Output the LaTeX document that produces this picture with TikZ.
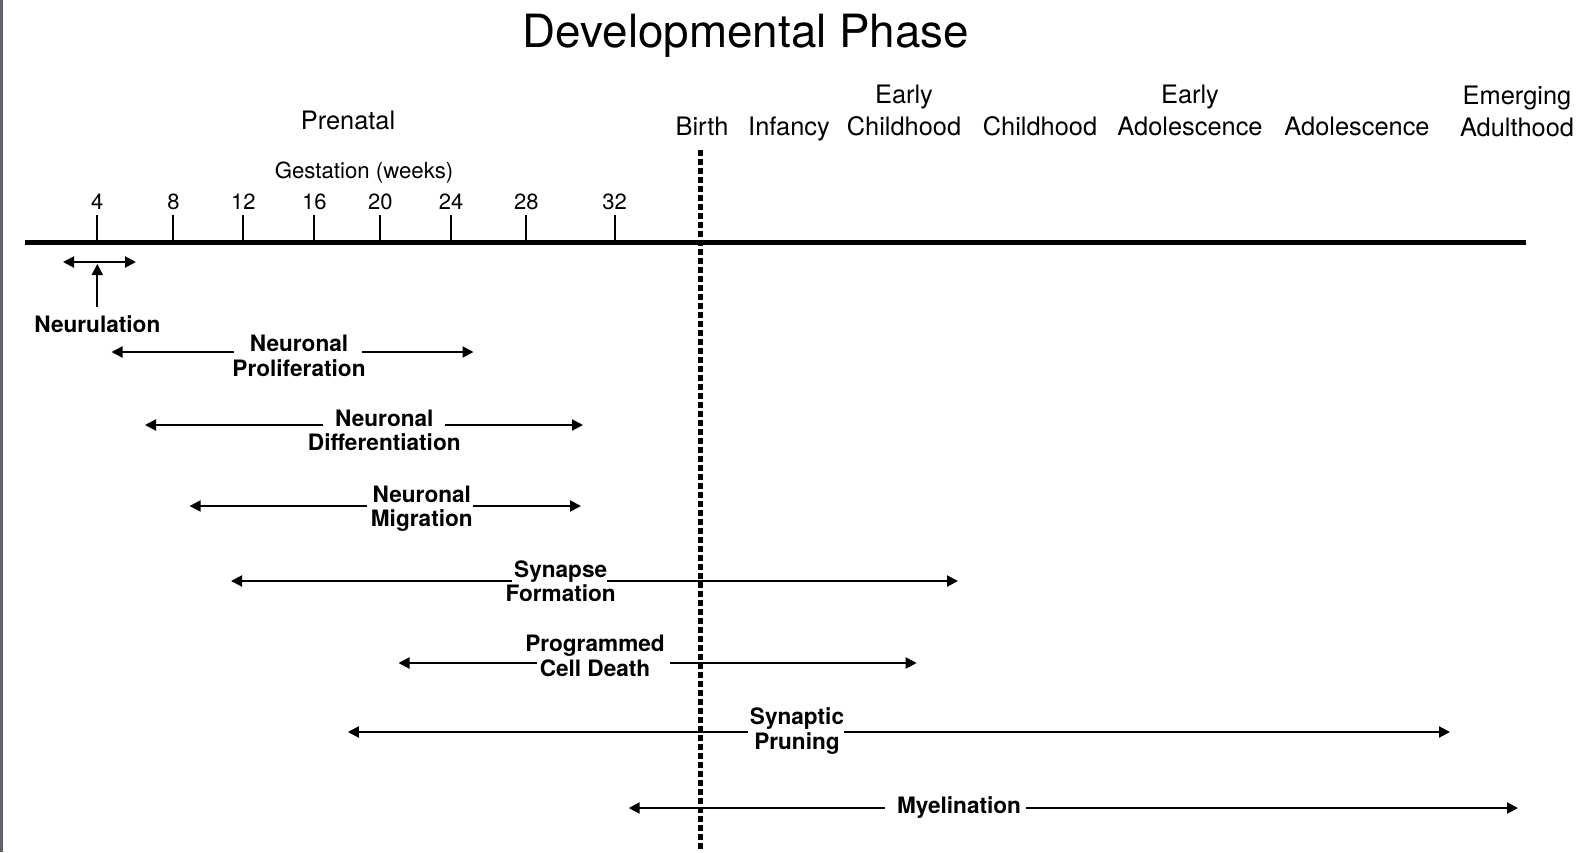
\documentclass[tikz,border=0pt]{standalone}
\usepackage{fontspec}
\setmainfont{TeX Gyre Heros}
\usetikzlibrary{arrows.meta}
\definecolor{sidebar}{RGB}{105,94,112}

\begin{document}
\begin{tikzpicture}[x=0.5pt, y=-0.5pt, >={Triangle[length=5.5pt,width=5.5pt]},
        span/.style={line width=1pt},
        phase/.style={font=\fontsize{11.3}{12.2}\selectfont\bfseries, align=center, inner sep=2pt},
        age/.style={font=\fontsize{12.7}{16.2}\selectfont, align=center, text depth=0pt}]
        \useasboundingbox (0,0) rectangle (1590,852);
        \fill [sidebar] (0,0) rectangle (3,852);

        \node [font=\fontsize{22.9}{26}\selectfont] (title) at (746,36) {Developmental Phase};

        % ages across the top
        \node [age] (prenatal) at (348,120) {Prenatal};
        \node [age] (birth) at (702,126) {Birth};
        \node [age] (infancy) at (789,126) {Infancy};
        \node [age] (earlychild) at (904,110) {Early\\Childhood};
        \node [age] (child) at (1040,126) {Childhood};
        \node [age] (earlyadol) at (1190,110) {Early\\Adolescence};
        \node [age] (adol) at (1357,126) {Adolescence};
        \node [age] (adult) at (1517,111) {Emerging\\Adulthood};

        % gestation axis
        \node [font=\fontsize{11.1}{13}\selectfont] (gestation) at (364,173) {Gestation (weeks)};
        \coordinate (axisL) at (25,242);
        \coordinate (axisR) at (1526,242);
        \draw [line width=2.5pt] (axisL) -- (axisR);
        \foreach \w/\x in {4/97.3, 8/173.4, 12/243.4, 16/314.3, 20/380.3, 24/451.2, 28/526.3, 32/614.5} {
            \draw [line width=1pt] (\x,215) -- (\x,242);
            \node [font=\fontsize{11}{13}\selectfont] (wk\w) at (\x,202) {\w};
        }

        % neurulation
        \coordinate (neurL) at (63,262);
        \coordinate (neurR) at (136,262);
        \draw [span, <->] (neurL) -- (neurR);
        \node [phase] (neur) at (97.3,324) {Neurulation};
        \coordinate (neurTip) at (97.3,264);
        \coordinate (neurFoot) at (97.3,307);
        \draw [span, ->] (neurFoot) -- (neurTip);

        % neuronal proliferation
        \coordinate (prolifL) at (111.5,352);
        \coordinate (prolifA) at (234,352);
        \coordinate (prolifB) at (362,352);
        \coordinate (prolifR) at (473.5,352);
        \draw [span, <-] (prolifL) -- (prolifA);
        \draw [span, ->] (prolifB) -- (prolifR);
        \node [phase] (prolif) at (299,356) {Neuronal\\Proliferation};

        % neuronal differentiation
        \coordinate (diffL) at (145,425);
        \coordinate (diffA) at (323,425);
        \coordinate (diffB) at (445,425);
        \coordinate (diffR) at (583,425);
        \draw [span, <-] (diffL) -- (diffA);
        \draw [span, ->] (diffB) -- (diffR);
        \node [phase] (diff) at (384.3,430.5) {Neuronal\\Differentiation};

        % neuronal migration
        \coordinate (migL) at (189.6,506);
        \coordinate (migA) at (367,506);
        \coordinate (migB) at (473,506);
        \coordinate (migR) at (581,506);
        \draw [span, <-] (migL) -- (migA);
        \draw [span, ->] (migB) -- (migR);
        \node [phase] (mig) at (421.8,509) {Neuronal\\Migration};

        % synapse formation
        \coordinate (synL) at (231,581);
        \coordinate (synA) at (512,581);
        \coordinate (synB) at (607,581);
        \coordinate (synR) at (958,581);
        \draw [span, <-] (synL) -- (synA);
        \draw [span, ->] (synB) -- (synR);
        \node [phase] (syn) at (560.7,581) {Synapse\\Formation};

        % programmed cell death
        \coordinate (deathL) at (398.5,663);
        \coordinate (deathA) at (537,663);
        \coordinate (deathB) at (670,663);
        \coordinate (deathR) at (916.7,663);
        \draw [span, <-] (deathL) -- (deathA);
        \draw [span, ->] (deathB) -- (deathR);
        \node [phase] (death) at (595,656) {Programmed\\Cell Death};

        % synaptic pruning
        \coordinate (pruneL) at (347.8,732);
        \coordinate (pruneA) at (748,732);
        \coordinate (pruneB) at (844,732);
        \coordinate (pruneR) at (1450,732);
        \draw [span, <-] (pruneL) -- (pruneA);
        \draw [span, ->] (pruneB) -- (pruneR);
        \node [phase] (prune) at (797,731) {Synaptic\\Pruning};

        % myelination
        \coordinate (myelL) at (628.7,808);
        \coordinate (myelA) at (885,808);
        \coordinate (myelB) at (1026,808);
        \coordinate (myelR) at (1518,808);
        \draw [span, <-] (myelL) -- (myelA);
        \draw [span, ->] (myelB) -- (myelR);
        \node [phase] (myel) at (959,808) {Myelination};

        % birth
        \coordinate (birthTop) at (700,150);
        \coordinate (birthBot) at (700,852);
        \draw [line width=2.5pt, dash pattern=on 3pt off 1.5pt] (birthTop) -- (birthBot);
\end{tikzpicture}
\end{document}
